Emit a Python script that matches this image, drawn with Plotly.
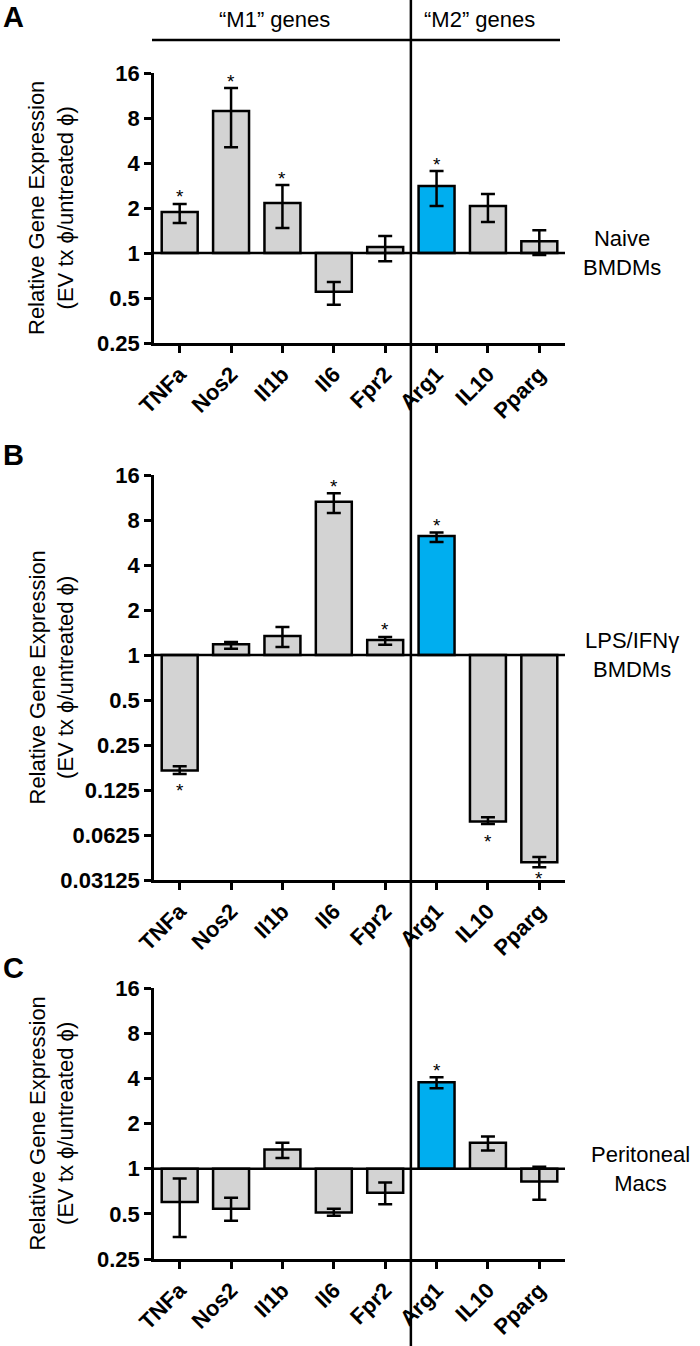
import math
import plotly.graph_objects as go

genes = ["TNFa", "Nos2", "Il1b", "Il6", "Fpr2", "Arg1", "IL10", "Pparg"]

# Panel A - Naive BMDMs
a_val = [1.88, 8.9, 2.16, 0.55, 1.095, 2.81, 2.06, 1.2]
a_hi = [2.13, 12.7, 2.85, 0.64, 1.3, 3.53, 2.48, 1.42]
a_lo = [1.59, 5.1, 1.47, 0.45, 0.88, 2.06, 1.61, 0.97]
a_star = [0, 1, 2, 5]

# Panel B - LPS/IFNg BMDMs
b_val = [0.169, 1.18, 1.34, 10.6, 1.26, 6.25, 0.077, 0.041]
b_hi = [0.18, 1.22, 1.54, 12.1, 1.32, 6.6, 0.082, 0.0445]
b_lo = [0.16, 1.1, 1.13, 8.9, 1.17, 5.7, 0.074, 0.038]
b_star = [0, 3, 4, 5, 6, 7]

# Panel C - Peritoneal Macs
c_val = [0.6, 0.54, 1.34, 0.51, 0.69, 3.76, 1.49, 0.82]
c_hi = [0.86, 0.64, 1.49, 0.54, 0.81, 4.06, 1.64, 1.03]
c_lo = [0.35, 0.45, 1.18, 0.485, 0.58, 3.43, 1.32, 0.62]
c_star = [5]

a_ticks = [0.25, 0.5, 1, 2, 4, 8, 16]
a_ticktext = ["0.25", "0.5", "1", "2", "4", "8", "16"]
b_ticks = [0.03125, 0.0625, 0.125, 0.25, 0.5, 1, 2, 4, 8, 16]
b_ticktext = ["0.03125", "0.0625", "0.125", "0.25", "0.5", "1", "2", "4", "8", "16"]

panel_letters = ["A", "B", "C"]
cell_labels = ["Naive<br>BMDMs", "LPS/IFNγ<br>BMDMs", "Peritoneal<br>Macs"]
group_labels = ["“M1” genes", "“M2” genes"]
highlight = "Arg1"

GRAY = "#d3d3d3"
BLUE = "#00aeef"
FONT = "Liberation Sans, Arial, sans-serif"
W, H = 700, 1346

x_left, x_right = 154, 565
panels_px = [(73, 343), (475, 880), (988, 1259)]
cell_label_pos = [(622, 253), (632, 655), (640, 1169)]
letter_y = [17, 455, 968]

fig = go.Figure()

panels = [
    (a_val, a_hi, a_lo, a_star, a_ticks, a_ticktext),
    (b_val, b_hi, b_lo, b_star, b_ticks, b_ticktext),
    (c_val, c_hi, c_lo, c_star, a_ticks, a_ticktext),
]

xpos = list(range(len(genes)))
colors = [BLUE if g == highlight else GRAY for g in genes]

for i, (val, hi, lo, star, tv, tt) in enumerate(panels):
    n = i + 1
    xa = "x" if n == 1 else f"x{n}"
    ya = "y" if n == 1 else f"y{n}"
    top, bot = panels_px[i]
    px_per_log2 = (bot - top) / math.log2(tv[-1] / tv[0])
    fig.add_trace(go.Bar(
        x=xpos, y=[v - 1 for v in val], base=[1] * len(val),
        width=0.7, marker=dict(color=colors, line=dict(color="black", width=2.5)),
        xaxis=xa, yaxis=ya, showlegend=False, hoverinfo="skip"))
    fig.add_trace(go.Scatter(
        x=[-0.5, len(genes) - 0.5], y=[1, 1], mode="lines",
        line=dict(color="black", width=2.5), xaxis=xa, yaxis=ya,
        showlegend=False, hoverinfo="skip", cliponaxis=False))
    fig.add_trace(go.Scatter(
        x=xpos, y=val, mode="markers", marker=dict(size=0.1, color="black"),
        error_y=dict(type="data", symmetric=False,
                     array=[h - v for h, v in zip(hi, val)],
                     arrayminus=[v - l for v, l in zip(val, lo)],
                     color="black", thickness=2.5, width=7),
        xaxis=xa, yaxis=ya, showlegend=False, hoverinfo="skip"))
    for k in star:
        if val[k] >= 1:
            yv, ys = math.log10(hi[k]), 7
        else:
            yv = math.log10(lo[k])
            room = math.log2(lo[k] / tv[0]) * px_per_log2
            ys = -min(17, room - 1)
        fig.add_annotation(text="*", x=k, y=yv, xref=xa, yref=ya,
                           xanchor="center", yanchor="middle", yshift=ys,
                           showarrow=False,
                           font=dict(size=19, family=FONT, color="black"))

    dom_y = [1 - bot / H, 1 - top / H]
    dom_x = [x_left / W, x_right / W]
    axis_common = dict(showline=True, linecolor="black", linewidth=2.5,
                       ticks="outside", ticklen=7, tickwidth=2.5, tickcolor="black",
                       showgrid=False, zeroline=False, automargin=False)
    fig.layout[f"xaxis{n if n > 1 else ''}"] = dict(
        domain=dom_x, anchor=ya, range=[-0.5, len(genes) - 0.5],
        tickvals=xpos, ticktext=genes, tickangle=-45,
        tickfont=dict(size=22, family=FONT, color="black", weight="bold"),
        **axis_common)
    fig.layout[f"yaxis{n if n > 1 else ''}"] = dict(
        domain=dom_y, anchor=xa, type="log",
        range=[math.log10(tv[0]), math.log10(tv[-1])],
        tickvals=tv, ticktext=tt,
        tickfont=dict(size=22, family=FONT, color="black", weight="bold"),
        **axis_common)

    yc = 1 - (top + bot) / 2 / H
    fig.add_annotation(text="Relative Gene Expression<br>(EV tx ϕ/untreated ϕ)",
                       xref="paper", yref="paper", x=51 / W, y=yc, textangle=-90,
                       xanchor="center", yanchor="middle",
                       showarrow=False, font=dict(size=22, family=FONT, color="black"))
    cx, cy = cell_label_pos[i]
    fig.add_annotation(text=cell_labels[i], xref="paper", yref="paper",
                       x=cx / W, y=1 - cy / H, xanchor="center", yanchor="middle",
                       showarrow=False, font=dict(size=22, family=FONT, color="black"))
    fig.add_annotation(text=f"<b>{panel_letters[i]}</b>", xref="paper", yref="paper",
                       x=1 / W, y=1 - letter_y[i] / H, xanchor="left", yanchor="middle",
                       showarrow=False, font=dict(size=29, family=FONT, color="black"))

fig.add_annotation(text=group_labels[0], xref="paper", yref="paper", x=274 / W, y=1 - 20 / H,
                   xanchor="center", yanchor="middle",
                   showarrow=False, font=dict(size=22, family=FONT, color="black"))
fig.add_annotation(text=group_labels[1], xref="paper", yref="paper", x=479 / W, y=1 - 20 / H,
                   xanchor="center", yanchor="middle",
                   showarrow=False, font=dict(size=22, family=FONT, color="black"))
fig.add_shape(type="line", xref="paper", yref="paper", x0=152 / W, x1=560 / W,
              y0=1 - 40 / H, y1=1 - 40 / H, line=dict(color="black", width=2.5))
fig.add_shape(type="line", xref="x", yref="paper", x0=4.5, x1=4.5, y0=0, y1=1,
              line=dict(color="black", width=2.5))

fig.update_layout(width=W, height=H, autosize=False,
                  margin=dict(l=0, r=0, t=0, b=0, pad=0, autoexpand=False),
                  paper_bgcolor="white", plot_bgcolor="white",
                  font=dict(family=FONT, color="black"))

fig.write_html("out.html", config={"displayModeBar": False, "responsive": False},
               post_script="document.body.style.margin='0';document.documentElement.style.overflow='hidden';document.body.style.overflow='hidden';")
